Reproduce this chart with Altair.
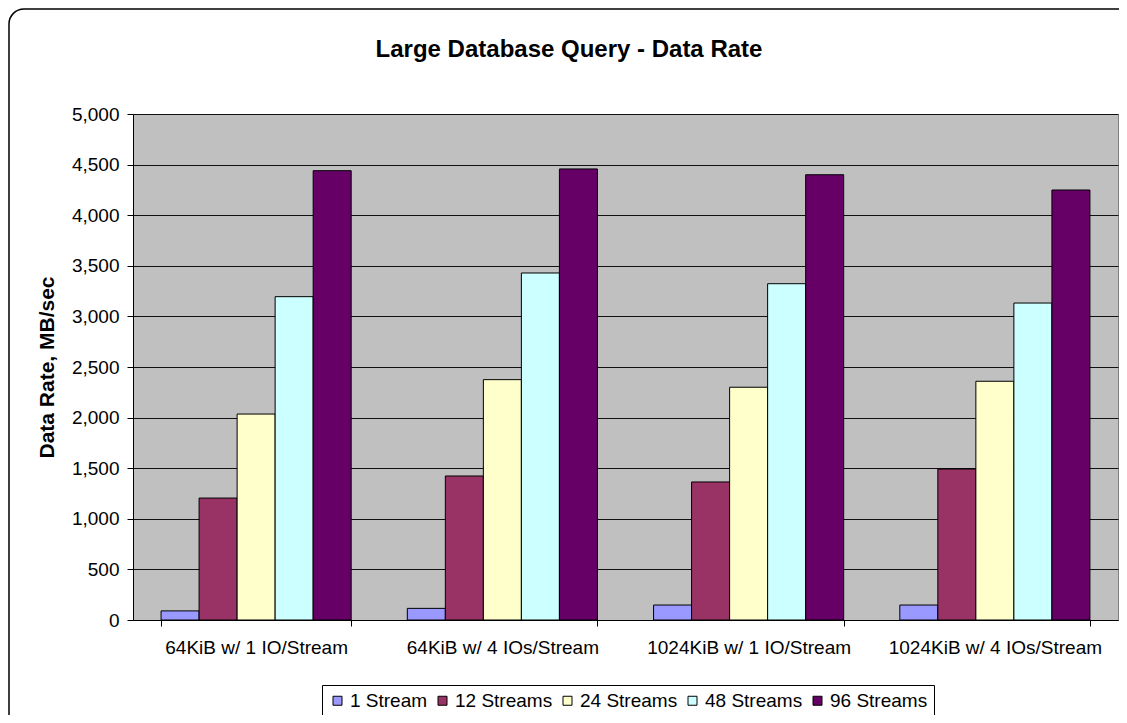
import altair as alt
import pandas as pd

FONT = "Liberation Sans"

title_text = "Large Database Query - Data Rate"
categories = [
    "64KiB w/ 1 IO/Stream",
    "64KiB w/ 4 IOs/Stream",
    "1024KiB w/ 1 IO/Stream",
    "1024KiB w/ 4 IOs/Stream",
]
series = ["1 Stream", "12 Streams", "24 Streams", "48 Streams", "96 Streams"]
s1 = [90, 115, 148, 148]
s12 = [1205, 1423, 1364, 1492]
s24 = [2035, 2375, 2300, 2359]
s48 = [3195, 3429, 3323, 3132]
s96 = [4440, 4457, 4400, 4249]
colors = ["#9999FF", "#993366", "#FFFFCC", "#CCFFFF", "#660066"]
y_ticks = list(range(0, 5001, 500))

rows = []
for name, vals in zip(series, [s1, s12, s24, s48, s96]):
    for cat, v in zip(categories, vals):
        rows.append({"config": cat, "series": name, "rate": v})
df = pd.DataFrame(rows)

W, H = 985, 506

bars = alt.Chart(df).mark_bar(stroke="black", strokeWidth=1).encode(
    x=alt.X(
        "config:N",
        sort=categories,
        scale=alt.Scale(paddingInner=0.228, paddingOuter=0.114),
        axis=alt.Axis(
            title=None,
            labelAngle=0,
            labelFontSize=19,
            labelFont=FONT,
            labelColor="black",
            labelPadding=12,
            labelLimit=400,
            tickBand="extent",
            tickSize=6,
            tickColor="black",
            domainColor="black",
            grid=False,
        ),
    ),
    xOffset=alt.XOffset("series:N", sort=series, scale=alt.Scale(paddingInner=0, paddingOuter=0)),
    y=alt.Y(
        "rate:Q",
        scale=alt.Scale(domain=[0, 5000], nice=False),
        axis=alt.Axis(
            values=y_ticks,
            format=",d",
            title="Data Rate, MB/sec",
            titleFont=FONT,
            titleFontSize=21,
            titleFontWeight="bold",
            titleColor="black",
            titleAngle=-90,
            titleX=-76,
            titleY=H / 2,
            titleBaseline="bottom",
            titleAlign="center",
            labelFontSize=19,
            labelFont=FONT,
            labelColor="black",
            labelPadding=8,
            tickSize=6,
            tickColor="black",
            domainColor="black",
            grid=True,
            gridColor="#111111",
            gridWidth=1,
        ),
    ),
    color=alt.Color(
        "series:N",
        sort=series,
        scale=alt.Scale(domain=series, range=colors),
        legend=alt.Legend(
            title=None,
            orient="none",
            legendX=189,
            legendY=571,
            direction="horizontal",
            symbolType="square",
            symbolSize=81,
            symbolStrokeColor="black",
            symbolStrokeWidth=1,
            symbolOpacity=1,
            labelFontSize=19,
            labelFont=FONT,
            labelColor="black",
            labelOffset=3,
            columnPadding=5,
            padding=6,
            strokeColor="black",
            fillColor="white",
        ),
    ),
)

title = alt.Chart(pd.DataFrame({"t": [title_text]})).mark_text(
    font=FONT,
    fontSize=24,
    fontWeight="bold",
    color="black",
    align="center",
    baseline="alphabetic",
).encode(
    text="t:N",
    x=alt.value(436),
    y=alt.value(-57),
)

border = alt.Chart(pd.DataFrame({"k": [0]})).mark_rect(
    fill="white", fillOpacity=0, stroke="black", strokeWidth=1.5, cornerRadius=15
).encode(
    x=alt.value(-124),
    x2=alt.value(W + 20),
    y=alt.value(-105),
    y2=alt.value(H + 120),
)

chart = alt.layer(bars, title, border).properties(
    width=W,
    height=H,
    padding={"left": 125, "top": 106, "right": 1, "bottom": 95},
    autosize=alt.AutoSizeParams(type="none"),
    background="white",
).configure_view(
    fill="#C0C0C0",
    stroke="#808080",
    strokeWidth=1,
)

chart.save("out.html", embed_options={"renderer": "svg", "actions": False})
